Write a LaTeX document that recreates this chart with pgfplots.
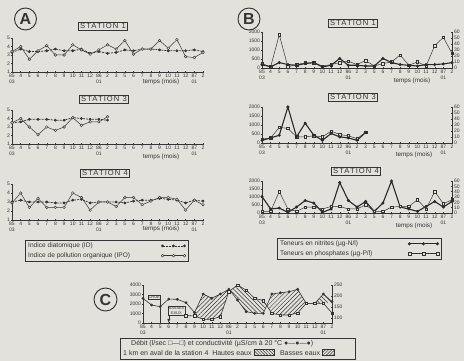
\documentclass[border=0pt]{standalone}
\usepackage{fontspec}
\setmainfont{Liberation Sans}
\usepackage{pgfplots}
\usepackage{pgfplotstable}
\pgfplotsset{compat=1.18}
\usetikzlibrary{patterns.meta}
\definecolor{bg}{RGB}{226,225,219}
\definecolor{ink}{RGB}{52,52,52}

\pgfplotstableread{
i a b
0 3.3 3.4
1 3.7 4.0
2 3.4 2.5
3 3.4 3.5
4 3.5 4.1
5 3.7 3.0
6 3.5 3.0
7 3.5 4.2
8 3.7 3.6
9 3.2 3.1
10 3.4 3.6
11 3.2 4.2
12 3.3 3.7
13 3.6 4.7
14 3.5 3.1
15 3.7 3.7
16 3.7 3.7
17 3.6 4.7
18 3.5 3.8
19 3.5 4.8
20 3.5 2.8
21 3.6 2.7
22 3.4 3.3
}\Aone
\pgfplotstableread{
i a b
0 3.5 3.5
1 3.6 4.0
2 3.9 3.0
3 3.9 2.1
4 3.9 3.0
5 3.8 2.6
6 3.8 3.0
7 4.1 4.1
8 4.0 3.2
9 3.9 3.6
10 3.9 3.6
11 3.8 4.2
}\Athree
\pgfplotstableread{
i a b
0 3.0 2.9
1 3.2 4.0
2 3.0 2.4
3 3.0 3.4
4 3.0 2.4
5 2.9 2.4
6 2.9 2.4
7 3.2 4.0
8 3.3 3.5
9 2.9 2.1
10 3.0 3.0
11 3.0 3.0
12 3.0 2.5
13 2.9 3.5
14 3.1 3.5
15 3.2 2.7
16 3.2 3.1
17 3.4 3.5
18 3.3 3.5
19 3.2 3.3
20 2.9 2.1
21 3.2 3.2
22 3.1 2.7
}\Afour
\pgfplotstableread{
i n p
0 190 245
1 60 60
2 300 1850
3 190 60
4 150 190
5 245 280
6 300 280
7 60 110
8 150 190
9 530 300
10 150 380
11 150 190
12 110 415
13 110 110
14 530 245
15 300 340
16 190 720
17 150 150
18 110 340
19 190 110
20 190 1245
21 225 1700
22 300 810
}\Bone
\pgfplotstableread{
i n p
0 150 210
1 280 280
2 430 870
3 2000 810
4 340 340
5 1100 340
6 430 400
7 150 340
8 530 660
9 340 470
10 280 400
11 150 245
12 585 585
}\Bthree
\pgfplotstableread{
i n p
0 1030 100
1 250 100
2 310 1340
3 40 250
4 370 100
5 780 370
6 620 370
7 40 250
8 250 410
9 1900 410
10 780 250
11 370 250
12 720 515
13 100 100
14 620 100
15 2000 370
16 370 410
17 250 410
18 100 825
19 410 250
20 720 1340
21 370 580
22 720 825
}\Bfour
\pgfplotstableread{
i c
0 2590
1 1890
2 1720
3 2520
4 2490
5 2140
6 1100
7 3050
8 2600
9 3050
10 3550
11 2420
12 1190
13 1020
14 1020
15 3050
16 3180
17 3290
18 3540
19 2070
20 2070
21 3050
22 2240
}\Ccond
\pgfplotstableread{
i d
5 770
6 750
7 390
8 390
9 670
10 3300
11 4000
12 3470
13 2600
14 2370
15 1020
16 840
17 840
18 1050
19 2070
20 2070
21 2070
22 1050
}\Cdeb

\pgfplotsset{
  mybase/.style={
    scale only axis, anchor=south west,
    axis x line*=bottom, axis y line*=left,
    axis line style={-,draw=ink,line width=0.55pt},
    xmin=0, xmax=22, xtick={0,...,22},
    xticklabels={{85\\03},4,5,6,7,8,9,10,11,12,{86\\01},2,3,5,6,7,8,9,10,11,12,{87\\01},2},
    tick label style={font=\fontsize{5}{6}\selectfont, text=ink},
    xticklabel style={align=center, inner sep=0.8pt},
    yticklabel style={inner sep=1pt},
    major tick length=1.6pt,
    tick style={draw=ink, line width=0.45pt},
    tick align=center,
    /pgf/number format/assume math mode=true,
    /pgf/number format/1000 sep={},
    clip=false,
  },
  myright/.style={
    scale only axis, anchor=south west,
    axis x line=none, axis y line*=right,
    axis line style={-,draw=ink,line width=0.55pt},
    xmin=0, xmax=22,
    tick label style={font=\fontsize{5}{6}\selectfont, text=ink},
    yticklabel style={inner sep=1pt},
    major tick length=1.6pt,
    tick style={draw=ink, line width=0.45pt},
    tick align=center,
    /pgf/number format/assume math mode=true,
    /pgf/number format/1000 sep={},
  },
  ids/.style={ink, line width=0.75pt, dash pattern=on 2pt off 1pt, mark=*, mark size=1pt, mark options={solid}},
  ipo/.style={ink, line width=0.5pt, mark=*, mark size=1.35pt, mark options={solid, fill=bg, draw=ink, line width=0.45pt}},
  nit/.style={ink!80!black, line width=1.1pt, mark=*, mark size=0.9pt},
  pho/.style={ink, line width=0.5pt, mark=square*, mark size=1.25pt, mark options={fill=bg, draw=ink, line width=0.45pt}},
  cond/.style={ink, line width=0.6pt, mark=*, mark size=1.1pt},
  deb/.style={ink, line width=0.6pt, mark=square*, mark size=1.25pt, mark options={fill=bg, draw=ink, line width=0.45pt}},
  hatchA/.style={draw=none, pattern={Lines[angle=45,distance=3pt,line width=0.5pt]}, pattern color=ink},
  hatchB/.style={draw=none, pattern={Lines[angle=-45,distance=3pt,line width=0.5pt]}, pattern color=ink},
}
\newcommand{\tit}[2]{\node[draw=ink, line width=0.55pt, inner xsep=1.8pt, inner ysep=1.3pt, text=ink, font=\fontsize{7.6}{8}\selectfont\addfontfeatures{LetterSpace=14}] at (#1) {#2};}
\newcommand{\circletter}[3]{\draw[ink, line width=0.95pt] (#1) circle (#2); \node[text=ink, font=\bfseries\fontsize{16}{16}\selectfont] at (#1) {#3};}
\newcommand{\tps}[1]{\node[text=ink, font=\fontsize{6.3}{7}\selectfont] at (#1) {temps (mois)};}

\begin{document}
\begin{tikzpicture}[x=1pt,y=1pt]
\useasboundingbox (0,0) rectangle (464,361);
\fill[bg] (0,0) rectangle (464,361);

% ---------- Panel A ----------
\circletter{25.5,342}{11}{A}
\tit{103,335}{STATION 1}
\begin{axis}[mybase, at={(12pt,289pt)}, width=191pt, height=34pt, ymin=1, ymax=5, ytick={1,...,5}]
\addplot[ids] table[x=i,y=a] \Aone;
\addplot[ipo] table[x=i,y=b] \Aone;
\end{axis}
\tps{161,279}

\tit{104,262}{STATION 3}
\begin{axis}[mybase, at={(12pt,217pt)}, width=191pt, height=34pt, ymin=1, ymax=5, ytick={1,...,5}]
\addplot[ids] table[x=i,y=a] \Athree;
\addplot[ipo] table[x=i,y=b] \Athree;
\end{axis}
\tps{161,204}

\tit{105,188}{STATION 4}
\begin{axis}[mybase, at={(12pt,141pt)}, width=191pt, height=36pt, ymin=1, ymax=5, ytick={1,...,5},
  legend style={at={(axis description cs:0.068,-0.556)}, anchor=north west, draw=ink, fill=none,
    line width=0.45pt, font=\fontsize{6.6}{7.5}\selectfont, text=ink, inner xsep=2pt, inner ysep=1.5pt,
    row sep=1.5pt, nodes={inner sep=1pt}},
  legend plot pos=right, legend cell align=left,
  legend image code/.code={\draw[#1] plot coordinates {(0pt,0pt) (11pt,0pt) (22pt,0pt)};}]
\addplot[ids] table[x=i,y=a] \Afour;
\addlegendentry{\makebox[132pt][l]{Indice diatomique (ID)}}
\addplot[ipo] table[x=i,y=b] \Afour;
\addlegendentry{\makebox[132pt][l]{Indice de pollution organique (IPO)}}
\end{axis}
\tps{161,132}

% ---------- Panel B ----------
\circletter{249,342}{11}{B}
\tit{353,338}{STATION 1}
\begin{axis}[mybase, at={(262pt,293pt)}, width=190pt, height=36pt, ymin=0, ymax=2000, ytick={0,500,...,2000}]
\addplot[pho] table[x=i,y=p] \Bone;
\addplot[nit] table[x=i,y=n] \Bone;
\end{axis}
\begin{axis}[myright, at={(262pt,293pt)}, width=190pt, height=36pt, ymin=0, ymax=60, ytick={0,10,...,60}]
\addplot[draw=none, forget plot] coordinates {(0,0) (22,60)};
\end{axis}
\tps{412,280}

\tit{353,264}{STATION 3}
\begin{axis}[mybase, at={(262pt,218pt)}, width=190pt, height=36pt, ymin=0, ymax=2000, ytick={0,500,...,2000}]
\addplot[pho] table[x=i,y=p] \Bthree;
\addplot[nit] table[x=i,y=n] \Bthree;
\end{axis}
\begin{axis}[myright, at={(262pt,218pt)}, width=190pt, height=36pt, ymin=0, ymax=60, ytick={0,10,...,60}]
\addplot[draw=none, forget plot] coordinates {(0,0) (22,60)};
\end{axis}
\tps{414,206}

\tit{356,190}{STATION 4}
\begin{axis}[mybase, at={(262pt,148pt)}, width=190pt, height=32pt, ymin=0, ymax=2000, ytick={0,500,...,2000},
  legend style={at={(axis description cs:0.079,-0.78)}, anchor=north west, draw=ink, fill=none,
    line width=0.45pt, font=\fontsize{6.6}{7.5}\selectfont, text=ink, inner xsep=2pt, inner ysep=1.5pt,
    row sep=1.5pt, nodes={inner sep=1pt}},
  legend plot pos=right, legend cell align=left,
  legend image code/.code={\draw[#1] plot coordinates {(0pt,0pt) (14pt,0pt) (28pt,0pt)};}]
\addplot[nit] table[x=i,y=n] \Bfour;
\addlegendentry{\makebox[127pt][l]{Teneurs en nitrites (µg-N/l)}}
\addplot[pho] table[x=i,y=p] \Bfour;
\addlegendentry{\makebox[127pt][l]{Teneurs en phosphates (µg-P/l)}}
\end{axis}
\begin{axis}[myright, at={(262pt,148pt)}, width=190pt, height=32pt, ymin=0, ymax=60, ytick={0,10,...,60}]
\addplot[draw=none, forget plot] coordinates {(0,0) (22,60)};
\end{axis}
\tps{414,135}

% ---------- Panel C ----------
\circletter{105.5,61.5}{11.5}{C}
\begin{axis}[mybase, at={(143pt,38pt)}, width=189pt, height=38pt, ymin=0, ymax=4000, ytick={0,1000,...,4000}]
\addplot[hatchA] coordinates {(6,1100) (7,3050) (8,2600) (9,3050) (10,3550) (10.137,3395) (10,3300) (9,670) (8,390) (7,390) (6,750)};
\addplot[hatchB] coordinates {(10.137,3395) (11,4000) (12,3470) (13,2600) (14,2370) (14.4,1832) (14,1020) (13,1020) (12,1190) (11,2420)};
\addplot[hatchA] coordinates {(14.4,1832) (15,3050) (16,3180) (17,3290) (18,3540) (19,2070) (18,1050) (17,840) (16,840) (15,1020)};
\addplot[hatchB] coordinates {(20,2070) (21,3050) (22,2240) (21,2070)};
\addplot[cond] table[x=i,y=c] \Ccond;
\addplot[deb] table[x=i,y=d] \Cdeb;
\draw[ink, line width=0.45pt] (axis cs:2,0) -- (axis cs:2,2400);
\draw[ink, line width=0.45pt, -latex] (axis cs:3,850) -- (axis cs:3,0);
\node[draw=ink, line width=0.45pt, fill=bg, inner sep=0.8pt, text=ink, font=\fontsize{3.9}{4}\selectfont] at (axis cs:1.3,2700) {CRUE};
\node[draw=ink, line width=0.45pt, fill=bg, inner sep=0.8pt, text=ink, align=center, font=\fontsize{3.9}{4.3}\selectfont] at (axis cs:3.9,1300) {BASSES\\EAUX};
\end{axis}
\begin{axis}[myright, at={(143pt,38pt)}, width=189pt, height=38pt, ymin=78, ymax=250, ytick={100,150,200,250}]
\addplot[draw=none, forget plot] coordinates {(0,100) (22,250)};
\end{axis}

\draw[ink, line width=0.45pt] (120,2) rectangle (355,23);
\node[anchor=west, inner sep=0pt, text=ink, font=\fontsize{7}{8}\selectfont] at (131,17) {Débit (l/sec □—□) et conductivité (µS/cm à 20 °C ●—●—●)};
\node[anchor=west, inner sep=0pt, text=ink, font=\fontsize{7}{8}\selectfont] (l2) at (123,8.3) {1 km en aval de la station 4 \ Hautes eaux};
\draw[ink, line width=0.45pt, pattern={Lines[angle=-45,distance=2.2pt,line width=0.45pt]}, pattern color=ink] ([xshift=2pt,yshift=-3pt]l2.east) rectangle ++(20,6);
\node[anchor=west, inner sep=0pt, text=ink, font=\fontsize{7}{8}\selectfont] (l3) at ([xshift=28pt]l2.east) {Basses eaux};
\draw[ink, line width=0.45pt, pattern={Lines[angle=45,distance=2.2pt,line width=0.45pt]}, pattern color=ink] ([xshift=2pt,yshift=-3pt]l3.east) rectangle ++(12,6);
\end{tikzpicture}
\end{document}
